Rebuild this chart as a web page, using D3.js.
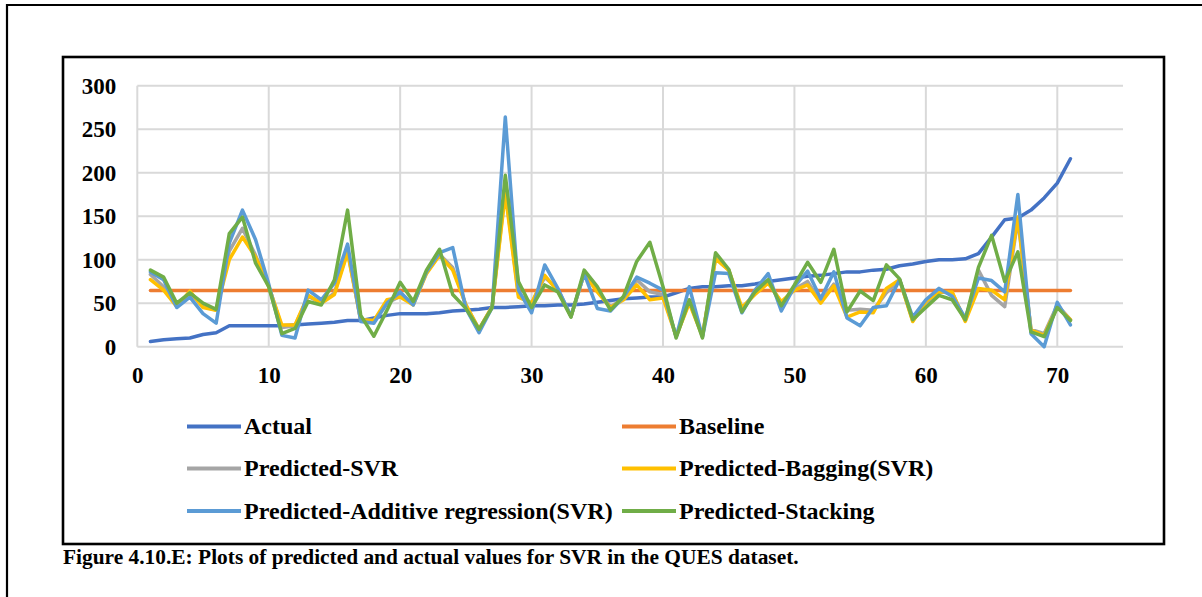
<!DOCTYPE html>
<html>
<head>
<meta charset="utf-8">
<script src="https://cdn.jsdelivr.net/npm/d3@7/dist/d3.min.js"></script>
<style>
  html, body { margin: 0; padding: 0; background: #fff; }
  svg { display: block; }
  text { font-family: "Liberation Serif", "Times New Roman", serif; font-weight: bold; fill: #000; }
</style>
</head>
<body>
<svg id="chart" width="1202" height="597"></svg>
<script>
// Observation index 1..71
const index = d3.range(1, 72);

const actual = [6, 8, 9, 10, 14, 16, 24, 24, 24, 24,
  24, 25, 26, 27, 28, 30, 30, 33, 36, 38,
  38, 38, 39, 41, 42, 43, 45, 45, 46, 47,
  47, 48, 48, 49, 51, 53, 55, 56, 57, 57,
  62, 67, 69, 69, 70, 70, 72, 75, 77, 79,
  81, 82, 84, 86, 86, 88, 89, 93, 95, 98,
  100, 100, 101, 107, 126, 146, 148, 157, 171, 188, 216];

const baselineValue = 64.5;
const baseline = index.map(() => baselineValue);

const predictedSVR = [83, 69, 48, 62, 46, 42, 110, 136, 105, 70,
  22, 24, 58, 50, 62, 110, 30, 30, 50, 58,
  50, 85, 106, 91, 48, 20, 46, 180, 60, 50,
  80, 66, 35, 84, 64, 46, 55, 77, 63, 60,
  12, 52, 13, 102, 88, 43, 62, 75, 50, 66,
  75, 52, 72, 42, 43, 42, 62, 77, 30, 50,
  63, 62, 30, 88, 59, 46, 146, 20, 15, 48, 31];

const predictedBagging = [77, 65, 46, 64, 45, 42, 100, 126, 103, 69,
  25, 25, 59, 50, 60, 108, 31, 30, 54, 57,
  48, 84, 105, 88, 48, 20, 46, 176, 57, 50,
  82, 64, 35, 84, 63, 45, 54, 71, 54, 56,
  12, 50, 12, 101, 88, 45, 60, 73, 52, 65,
  71, 50, 70, 34, 40, 39, 67, 77, 29, 52,
  63, 63, 29, 67, 65, 54, 149, 19, 13, 46, 31];

const predictedAdditive = [86, 77, 45, 57, 38, 27, 119, 157, 123, 72,
  13, 10, 65, 54, 73, 118, 29, 27, 50, 63,
  48, 86, 108, 114, 44, 16, 45, 264, 65, 39,
  94, 67, 35, 84, 44, 41, 57, 80, 73, 65,
  11, 69, 11, 85, 84, 39, 65, 84, 41, 69,
  87, 55, 86, 33, 24, 45, 47, 77, 34, 54,
  67, 58, 33, 79, 76, 63, 175, 15, 0, 51, 25];

const predictedStacking = [88, 80, 50, 62, 50, 43, 130, 149, 96, 69,
  15, 21, 52, 48, 77, 157, 36, 12, 42, 74,
  52, 88, 112, 60, 44, 20, 45, 197, 75, 45,
  71, 63, 34, 88, 69, 42, 58, 98, 120, 69,
  10, 54, 10, 108, 89, 40, 63, 77, 47, 71,
  97, 74, 112, 40, 64, 53, 94, 78, 31, 45,
  59, 54, 31, 91, 128, 75, 109, 17, 11.5, 45, 30];

const xTicks = [0, 10, 20, 30, 40, 50, 60, 70];
const yTicks = [0, 50, 100, 150, 200, 250, 300];

const seriesNames = ["Actual", "Baseline", "Predicted-SVR", "Predicted-Bagging(SVR)",
  "Predicted-Additive regression(SVR)", "Predicted-Stacking"];
const seriesColors = ["#4472C4", "#ED7D31", "#A5A5A5", "#FFC000", "#5B9BD5", "#70AD47"];
const seriesValues = [actual, baseline, predictedSVR, predictedBagging, predictedAdditive, predictedStacking];

const captionText = "Figure 4.10.E: Plots of predicted and actual values for SVR in the QUES dataset.";

// ---- layout ----
const svg = d3.select("#chart");
const plot = { left: 137.3, right: 1123, top: 85.7, bottom: 346.7 };

const x = d3.scaleLinear().domain([0, 75]).range([plot.left, plot.right]);
const y = d3.scaleLinear().domain([0, 300]).range([plot.bottom, plot.top]);

// outer page frame (open to the right and bottom)
svg.append("path")
  .attr("d", "M7,597 V5 H1202")
  .attr("fill", "none").attr("stroke", "#000").attr("stroke-width", 2.2);

// chart frame
svg.append("rect")
  .attr("x", 63).attr("y", 57).attr("width", 1101).attr("height", 487)
  .attr("fill", "#fff").attr("stroke", "#000").attr("stroke-width", 2.6);

// gridlines
const grid = svg.append("g").attr("stroke", "#D9D9D9").attr("stroke-width", 2);
grid.selectAll("line.h").data(yTicks).join("line")
  .attr("class", "h")
  .attr("x1", plot.left).attr("x2", plot.right)
  .attr("y1", d => y(d)).attr("y2", d => y(d));
grid.selectAll("line.v").data(xTicks).join("line")
  .attr("class", "v")
  .attr("x1", d => x(d)).attr("x2", d => x(d))
  .attr("y1", plot.top).attr("y2", plot.bottom);

// axes (labels only)
const xAxis = svg.append("g")
  .attr("transform", `translate(0,${plot.bottom})`)
  .call(d3.axisBottom(x).tickValues(xTicks).tickSize(0).tickPadding(20));
const yAxis = svg.append("g")
  .attr("transform", `translate(${plot.left},0)`)
  .call(d3.axisLeft(y).tickValues(yTicks).tickSize(0).tickPadding(21));
[xAxis, yAxis].forEach(g => {
  g.select(".domain").remove();
  g.selectAll("text")
    .attr("fill", "#000")
    .style("font-family", '"Liberation Serif", "Times New Roman", serif')
    .style("font-weight", "bold")
    .style("font-size", "23px");
});

// series lines
const line = d3.line().x((d, i) => x(index[i])).y(d => y(d));
const lines = svg.append("g");
seriesValues.forEach((vals, k) => {
  lines.append("path")
    .datum(vals)
    .attr("d", line)
    .attr("fill", "none")
    .attr("stroke", seriesColors[k])
    .attr("stroke-width", 3.5)
    .attr("stroke-linejoin", "round")
    .attr("stroke-linecap", "round");
});

// legend, two columns
const legendCols = [187, 622];
const legendRows = [426.5, 468.5, 511];
const legend = svg.append("g");
seriesNames.forEach((name, k) => {
  const cx = legendCols[k % 2];
  const cy = legendRows[Math.floor(k / 2)];
  legend.append("line")
    .attr("x1", cx).attr("x2", cx + 54)
    .attr("y1", cy).attr("y2", cy)
    .attr("stroke", seriesColors[k]).attr("stroke-width", 4);
  legend.append("text")
    .attr("x", cx + 57).attr("y", cy + 7.5)
    .style("font-size", "24px")
    .text(name);
});

// caption
svg.append("text")
  .attr("x", 63).attr("y", 564)
  .style("font-size", "21.4px")
  .text(captionText);
</script>
</body>
</html>
